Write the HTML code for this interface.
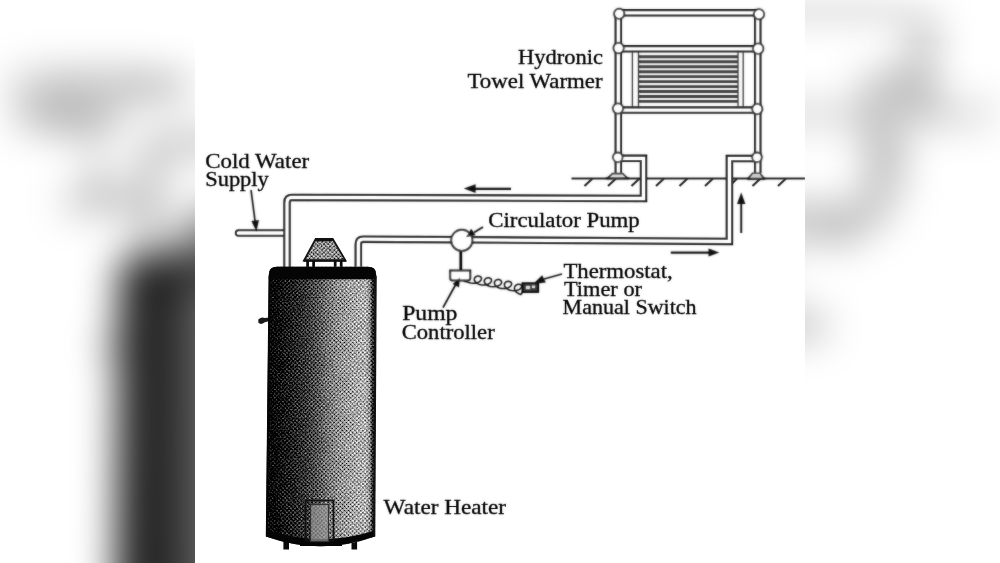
<!DOCTYPE html>
<html>
<head>
<meta charset="utf-8">
<title>Hydronic Towel Warmer Diagram</title>
<style>
  html, body { margin: 0; padding: 0; }
  body { width: 1000px; height: 563px; overflow: hidden; background: #fff; position: relative;
         font-family: "Liberation Serif", serif; }
  #bg { position: absolute; left: 0; top: -180px; width: 1000px; height: 923px; filter: blur(20px); }
  #topfade { position: absolute; left: 0; top: 0; width: 1000px; height: 40px; background: linear-gradient(to bottom, rgba(255,255,255,0.8), rgba(255,255,255,0)); }
  #fg { position: absolute; left: 195px; top: 0; width: 610px; height: 563px; background: #fff; overflow: hidden; }
  svg { display: block; }
  svg text { font-family: "Liberation Serif", serif; font-size: 20.6px; fill: #000; stroke: #000; stroke-width: 0.32px; }
</style>
</head>
<body>

<!-- shared diagram definition -->
<svg width="0" height="0" style="position:absolute">
  <defs>
    <linearGradient id="tank" x1="0" y1="0" x2="1" y2="0">
      <stop offset="0" stop-color="#000000"/>
      <stop offset="0.04" stop-color="#000000"/>
      <stop offset="0.09" stop-color="#060606"/>
      <stop offset="0.16" stop-color="#161616"/>
      <stop offset="0.26" stop-color="#262626"/>
      <stop offset="0.36" stop-color="#383838"/>
      <stop offset="0.46" stop-color="#545454"/>
      <stop offset="0.55" stop-color="#727272"/>
      <stop offset="0.65" stop-color="#8c8c8c"/>
      <stop offset="0.78" stop-color="#a0a0a0"/>
      <stop offset="0.9" stop-color="#acacac"/>
      <stop offset="0.94" stop-color="#8c8c8c"/>
      <stop offset="0.962" stop-color="#323232"/>
      <stop offset="1" stop-color="#0a0a0a"/>
    </linearGradient>
    <radialGradient id="cone" cx="0.5" cy="0.5" r="0.72">
      <stop offset="0" stop-color="#000"/>
      <stop offset="1" stop-color="#fff"/>
    </radialGradient>
    <pattern id="screen" width="2.9" height="2.9" patternUnits="userSpaceOnUse" patternTransform="rotate(45)">
      <rect width="2.9" height="2.9" fill="url(#cone)"/>
    </pattern>
    <filter id="thresh" x="0" y="0" width="1" height="1" color-interpolation-filters="sRGB">
      <feTurbulence type="fractalNoise" baseFrequency="0.75" numOctaves="1" seed="5" result="n"/>
      <feColorMatrix in="n" type="matrix" values="1 0 0 0 0  1 0 0 0 0  1 0 0 0 0  0 0 0 0 1" result="ng"/>
      <feComposite in="SourceGraphic" in2="ng" operator="arithmetic" k1="0" k2="1" k3="0.4" k4="-0.2"/>
      <feComponentTransfer>
        <feFuncR type="linear" slope="2.2" intercept="-0.6"/>
        <feFuncG type="linear" slope="2.2" intercept="-0.6"/>
        <feFuncB type="linear" slope="2.2" intercept="-0.6"/>
      </feComponentTransfer>
    </filter>
    <clipPath id="tankclip"><path d="M268.8 275 Q268.8 266.8 277 266.8 H368 Q376.2 266.8 376.2 275 L374.8 536.5 Q321 556 266 536.5 Z"/></clipPath>
    <clipPath id="capclip"><path d="M315.7 239 H332.7 L345.5 260.5 H304 Z"/></clipPath>
    <filter id="softtext" x="-2%" y="-2%" width="104%" height="104%">
      <feGaussianBlur in="SourceGraphic" stdDeviation="0.8" result="b"/>
      <feComposite in="SourceGraphic" in2="b" operator="arithmetic" k1="0" k2="0.72" k3="0.28" k4="0"/>
    </filter>
    <filter id="pipeblur" x="-2%" y="-2%" width="104%" height="104%">
      <feGaussianBlur in="SourceGraphic" stdDeviation="0.8" result="b"/>
      <feComposite in="SourceGraphic" in2="b" operator="arithmetic" k1="0" k2="0.66" k3="0.34" k4="0"/>
    </filter>
    <filter id="soft" x="-2%" y="-2%" width="104%" height="104%">
      <feGaussianBlur in="SourceGraphic" stdDeviation="0.8" result="b"/>
      <feComposite in="SourceGraphic" in2="b" operator="arithmetic" k1="0" k2="0.5" k3="0.5" k4="0"/>
    </filter>

    <symbol id="diagram" viewBox="195 0 610 563">
      <rect x="195" y="0" width="610" height="563" fill="#fff"/>
      <g filter="url(#soft)">

      <!-- cut-off text fragment at very top -->
      <path d="M540 0.4h9M553 0.4h6M563 0.4h10" stroke="#444" stroke-width="1.8"/>

      </g>
      <g filter="url(#pipeblur)">
      <!-- ground line + hatch -->
      <g stroke="#2b2b2b" fill="none">
        <path d="M571.5 178.5 H805" stroke-width="1.9"/>
        <path d="M592.5 178.5 l-8 7.5 M616 178.5 l-8 7.5 M639.5 178.5 l-8 7.5 M664 178.5 l-8 7.5 M687.5 178.5 l-8 7.5 M713 178.5 l-8 7.5 M737 178.5 l-7 7 M760.5 178.5 l-8 7.5 M786 178.5 l-8 7.5" stroke-width="2.2"/>
      </g>

      <!-- cold water stub -->
      <path d="M285 230.2 H238.6 a2.8 2.8 0 0 0 0 5.6 H285" fill="#fff" stroke="#161616" stroke-width="1.9"/>
      <!-- ============ pipes (dark outer) ============ -->
      <g fill="none" stroke="#101010" stroke-width="7.5" stroke-linejoin="miter">
        <!-- return: warmer left -> heater cold in -->
        <path d="M618.5 158.3 H643.5 V198.5 L292 197.4 Q287 197.4 287 202.4 V268"/>
        <!-- supply: heater hot out -> pump -> warmer right -->
        <path d="M358.3 268 V244.2 Q358.3 239.2 363.3 239.2 L729.4 241.4 V158.6 H758"/>
        <!-- towel warmer frame -->
        <path d="M618.3 13 V173"/>
        <path d="M757.8 13 V173"/>
        <path d="M618.5 12.8 H758.3"/>
        <path d="M618.5 48.8 H758.3"/>
        <path d="M618.5 110.1 H758.3"/>
      </g>
      <!-- ============ pipes (white inner) ============ -->
      <g fill="none" stroke="#fff" stroke-width="3.3" stroke-linejoin="miter">
        <path d="M618.5 158.3 H643.5 V198.5 L292 197.4 Q287 197.4 287 202.4 V268"/>
        <path d="M358.3 268 V244.2 Q358.3 239.2 363.3 239.2 L729.4 241.4 V158.6 H758"/>
        <path d="M618.3 13 V173"/>
        <path d="M757.8 13 V173"/>
        <path d="M618.5 12.8 H758.3"/>
        <path d="M618.5 48.8 H758.3"/>
        <path d="M618.5 110.1 H758.3"/>
      </g>

      </g>
      <g filter="url(#soft)">

      <!-- towel on warmer -->
      <g>
        <g stroke="#333" stroke-width="1.3" fill="none">
          <path d="M632.4 51.7 V107.2 M638.5 51.7 V107.2 M738 51.7 V107.2 M743.2 51.7 V107.2"/>
        </g>
        <g stroke="#3a3a3a" stroke-width="2.9">
          <path d="M638.5 56.8 H738 M638.5 61.8 H738 M638.5 66.7 H738 M638.5 71.7 H738 M638.5 76.6 H738 M638.5 81.6 H738 M638.5 86.6 H738 M638.5 91.5 H738 M638.5 96.5 H738 M638.5 101.4 H738"/>
        </g>
      </g>

      <!-- warmer joint balls -->
      <g fill="#fff" stroke="#161616" stroke-width="1.8">
        <circle cx="619.2" cy="13.8" r="5.1"/>
        <circle cx="759" cy="14.3" r="5.1"/>
        <circle cx="618.6" cy="48.1" r="5.2"/>
        <circle cx="758.2" cy="48.6" r="5.2"/>
        <circle cx="618" cy="108.5" r="5.1"/>
        <circle cx="757.3" cy="109" r="5.1"/>
        <circle cx="617.8" cy="157.3" r="4.8"/>
        <circle cx="757" cy="157.3" r="4.8"/>
      </g>

      <!-- floor flanges -->
      <path d="M607.5 178.2 L612.5 173.6 H622.8 L627.5 178.2 Z" fill="#ddd" stroke="#222" stroke-width="1.6" stroke-linejoin="round"/>
      <path d="M748.2 178.6 L752.5 173.2 H760 L764 178.6 Z" fill="#ccc" stroke="#222" stroke-width="1.6" stroke-linejoin="round"/>
      <path d="M606 178.4 H629 M747 178.8 H765.5" stroke="#2a2a2a" stroke-width="1.6"/>

      <!-- pump -->
      <circle cx="461.8" cy="240.3" r="10.6" fill="#fff" stroke="#0a0a0a" stroke-width="1.9"/>
      <path d="M460.8 251 V270.5" stroke="#000" stroke-width="2.7"/>
      <path d="M450.2 270.4 H470.2 V278 Q470.2 280.4 467.8 280.4 H452.6 Q450.2 280.4 450.2 278 Z" fill="#fff" stroke="#000" stroke-width="2"/>
      <!-- coiled wire -->
      <path d="M463.5 281 L467.4 281.9 469.0 282.6 470.8 283.1 472.7 283.3 474.6 283.3 476.4 283.0 478.0 282.4 479.4 281.7 480.4 280.8 481.1 279.9 481.4 278.9 481.4 278.0 481.0 277.2 480.3 276.6 479.3 276.2 478.3 276.0 477.2 276.1 476.2 276.5 475.3 277.1 474.6 277.9 474.3 278.9 474.3 279.9 474.7 281.0 475.5 282.1 476.6 283.1 478.0 283.9 479.7 284.6 481.5 285.0 483.4 285.1 485.3 285.0 487.1 284.6 488.6 284.0 489.9 283.2 490.8 282.3 491.3 281.3 491.5 280.3 491.3 279.5 490.8 278.7 490.0 278.2 489.0 277.8 487.9 277.8 486.9 278.0 485.9 278.4 485.1 279.1 484.5 280.0 484.3 281.0 484.5 282.1 485.0 283.2 485.9 284.3 487.1 285.2 488.7 286.0 490.4 286.5 492.3 286.8 494.2 286.8 496.0 286.6 497.7 286.1 499.2 285.4 500.3 284.6 501.1 283.7 501.5 282.7 501.5 281.8 501.2 280.9 500.6 280.2 499.7 279.8 498.7 279.5 497.6 279.6 496.5 279.9 495.6 280.4 494.9 281.2 494.5 282.1 494.4 283.2 494.7 284.3 495.3 285.4 496.4 286.4 497.7 287.3 499.3 288.0 501.1 288.4 503.0 288.6 504.9 288.5 506.7 288.2 508.3 287.7 509.7 286.9 510.7 286.0 511.3 285.1 511.6 284.1 511.5 283.2 511.1 282.4 510.3 281.8 509.4 281.4 508.3 281.3 507.2 281.4 506.2 281.8 505.4 282.4 504.7 283.3 504.4 284.3 504.5 285.4 504.9 286.5 505.7 287.6 506.9 288.7 508.3 289.5 510.0 290.2 511.9 290.6 513.8 290.7 515.7 290.6 517.4 290.2 518.9 289.7 520.2 288.9 521.0 288.1 521.5 287.2 521.7 286.3 521.4 285.5 520.9 284.9 520.1 284.5 519.1 284.3 518.0 284.3 516.9 284.7 515.9 285.2 515.1 286.1 514.6 287.1 514.5 288.2 514.6 289.5 515.2 290.7 516.2 291.9 517.4 292.9 519.0 293.8 520.8 294.5 L523 291.8" fill="none" stroke="#111" stroke-width="1.55" stroke-linejoin="round"/>
      <rect x="522.4" y="283.2" width="15.8" height="8.8" fill="#333" stroke="#000" stroke-width="1.8"/>
      <path d="M526 286 h4 v3 h-4 z M532 285.5 h3 v2.5 h-3z" fill="#ddd"/>

      <!-- arrows -->
      <g stroke="#111" stroke-width="2.2" fill="#111">
        <path d="M511 188.8 H473" fill="none"/><path d="M463.8 188.6 l11.8 -4.4 v8.8 z" stroke="none"/>
        <path d="M670.8 252.6 H710" fill="none"/><path d="M719.3 252.5 l-10.8 -4 v8 z" stroke="none"/>
        <path d="M741.2 233 V202" fill="none" stroke-width="1.9"/><path d="M741.2 192.4 l-4.2 11.6 h8.4 z" stroke="none"/>
        <path d="M251 190 L255.2 222" fill="none" stroke-width="1.7"/><path d="M256.4 231.5 l-5 -10.5 l7.6 -1 z" stroke="none"/>
        <path d="M483 227 L474 232.5" fill="none" stroke-width="1.8"/><path d="M466 237.2 l5.2 -8.4 l4.4 6.4 z" stroke="none"/>
        <path d="M562 274 L544 279" fill="none" stroke-width="1.8"/><path d="M533 284 l9.2 -8.8 l3.6 7.2 z" stroke="none"/>
        <path d="M443 307.6 L456 284" fill="none" stroke-width="1.8"/><path d="M460 277.6 l-1 10 l-6.2 -3.6 z" stroke="none"/>
      </g>

      </g>
      <!-- ============ water heater ============ -->
      <g>
      <!-- vent cap -->
      <g clip-path="url(#capclip)"><g filter="url(#thresh)">
        <rect x="303" y="238" width="44" height="24" fill="#8a8a8a"/>
        <rect x="303" y="238" width="44" height="24" fill="url(#screen)" opacity="0.5"/>
      </g></g>
      <path d="M315.7 239 H332.7 L345.5 260.5 H304 Z" fill="none" stroke="#151515" stroke-width="1.8"/>
      <path d="M303.6 260.6 H346" stroke="#111" stroke-width="2.2"/>
      <path d="M315.3 240 H332.8" stroke="#111" stroke-width="2.4"/>
      <path d="M307.6 261 V267.5 M313.6 261 V267.5 M335.2 261 V267.5 M341.2 261 V267.5" stroke="#0a0a0a" stroke-width="2.7"/>
      <!-- legs -->
      <rect x="283.4" y="538" width="5.6" height="11.5" fill="#0a0a0a"/>
      <rect x="351.5" y="538" width="5.6" height="11.5" fill="#0a0a0a"/>
      <!-- drain valve -->
      <path d="M258.3 319.6 q3 -3 6.5 -1.6 l4.5 -0.6 v3.6 l-4.5 1.2 q-4 3.2 -6.5 0.4 z" fill="#1a1a1a"/>
      <!-- body -->
      <g clip-path="url(#tankclip)"><g filter="url(#thresh)">
        <rect x="266" y="266" width="110.5" height="285" fill="url(#tank)"/>
        <rect x="266" y="266" width="110.5" height="285" fill="url(#screen)" opacity="0.5"/>
      </g></g>
      <!-- top black band -->
      <path d="M268.8 279.3 V275 Q268.8 266.8 277 266.8 H368 Q376.2 266.8 376.2 275 V279.3 Z" fill="#050505"/>
      <!-- bottom black band -->
      <path d="M266 529.5 Q321 548 374.8 530.5 V536.5 Q321 556 266 536.5 Z" fill="#050505"/>
      <!-- access door -->
      <rect x="305.5" y="500.5" width="28" height="40" fill="none" stroke="#111" stroke-width="1.8"/>
      <rect x="310.5" y="504.5" width="18" height="37" fill="#a0a0a0" fill-opacity="0.65" stroke="#333" stroke-width="1.2"/>
      <path d="M300 540 Q321 548 342 540 V546 H300 Z" fill="#050505"/>
      <!-- side outlines -->
      <path d="M269.6 276 L266.8 536.5" stroke="#050505" stroke-width="2" fill="none"/>
      <path d="M375.6 276 L374.2 536.5" stroke="#111" stroke-width="2.2" fill="none"/>

      </g>
      <!-- ============ labels ============ -->
      <g filter="url(#softtext)">
      <text x="205.2" y="167.6" textLength="104" lengthAdjust="spacingAndGlyphs">Cold Water</text>
      <text x="205.2" y="186.2" textLength="63.6" lengthAdjust="spacingAndGlyphs">Supply</text>
      <text x="518" y="64" textLength="85" lengthAdjust="spacingAndGlyphs">Hydronic</text>
      <text x="467.5" y="88" textLength="135" lengthAdjust="spacingAndGlyphs">Towel Warmer</text>
      <text x="488.3" y="226.6" textLength="151.5" lengthAdjust="spacingAndGlyphs">Circulator Pump</text>
      <text x="563.4" y="278.2" textLength="109.3" lengthAdjust="spacingAndGlyphs">Thermostat,</text>
      <text x="564" y="295.5" textLength="78" lengthAdjust="spacingAndGlyphs">Timer or</text>
      <text x="562.6" y="314.2" textLength="134" lengthAdjust="spacingAndGlyphs">Manual Switch</text>
      <text x="402.2" y="320.2" textLength="55.2" lengthAdjust="spacingAndGlyphs">Pump</text>
      <text x="401.7" y="338.8" textLength="93" lengthAdjust="spacingAndGlyphs">Controller</text>
      <text x="383.6" y="514.4" textLength="122.5" lengthAdjust="spacingAndGlyphs">Water Heater</text>
      </g>
    </symbol>
  </defs>
</svg>

<!-- blurred, scaled-up copy used as backdrop -->
<div id="bg">
  <svg width="1000" height="923" viewBox="0 0 1000 923"><use href="#diagram" x="0" y="0" width="1000" height="923"/></svg>
</div>

<div id="topfade"></div>

<!-- sharp centred diagram -->
<div id="fg">
  <svg width="610" height="563" viewBox="0 0 610 563"><use href="#diagram" x="0" y="0" width="610" height="563"/></svg>
</div>

</body>
</html>
